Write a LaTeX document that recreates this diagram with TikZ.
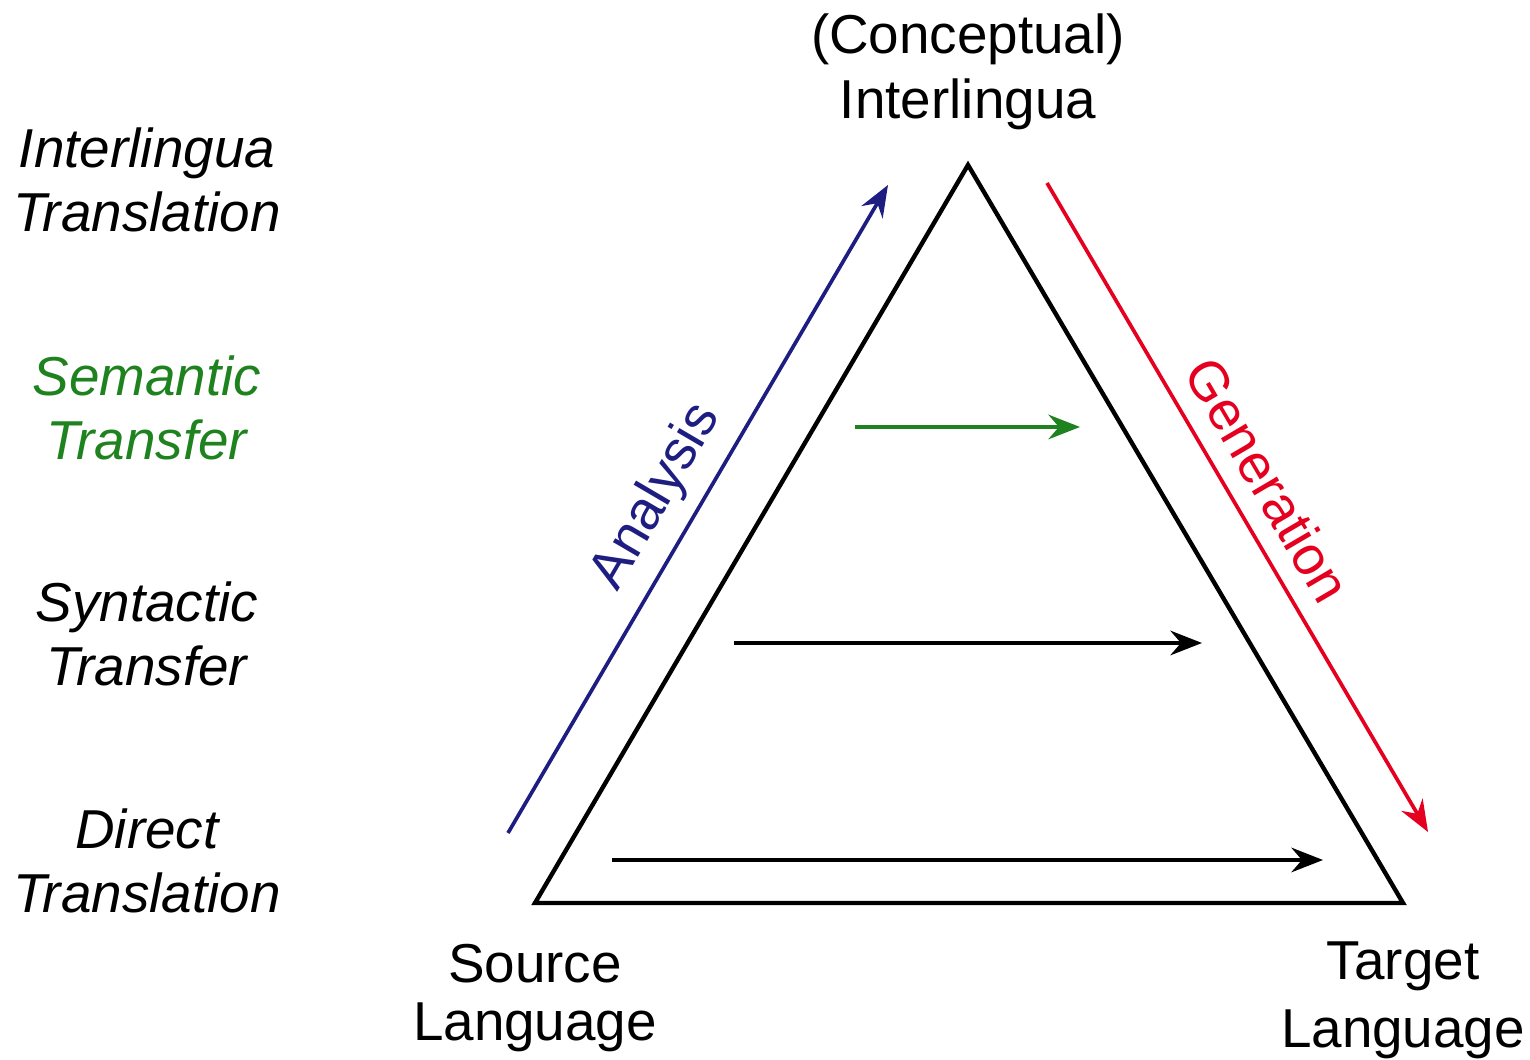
\documentclass[tikz,border=0pt]{standalone}
\usepackage{fontspec}
\setmainfont{Liberation Sans}
\usepackage{xcolor}
\usetikzlibrary{positioning,calc,arrows.meta}

\definecolor{analysisblue}{RGB}{30,30,130}
\definecolor{genred}{RGB}{228,0,30}
\definecolor{semgreen}{RGB}{30,130,30}

\tikzset{
    lbl/.style={align=center, inner sep=0pt, font=\fontsize{15.6}{18.5}\selectfont},
    level/.style={lbl, font=\fontsize{15.6}{18.2}\selectfont\itshape},
    flow/.style={line width=1.05pt, -{Stealth[length=9pt, width=7pt, inset=3pt]}}
}

\begin{document}
\begin{tikzpicture}
    \useasboundingbox (0,0) rectangle (15.3,10.6);

    % Triangle corners
    \coordinate (apex) at (9.68,8.95);
    \coordinate (src) at (5.35,1.57);
    \coordinate (tgt) at (14.03,1.57);
    \draw[line width=1.25pt, line join=miter] (src) -- (apex) -- (tgt) -- cycle;

    % Corner labels
    \node[lbl] (inter) at (9.68,9.88) {(Conceptual)\\Interlingua};
    \node[lbl, font=\fontsize{15.6}{16.6}\selectfont] (srclang) at (5.35,0.62) {Source\\Language};
    \node[lbl, font=\fontsize{15.6}{19.3}\selectfont] (tgtlang) at (14.03,0.60) {Target\\Language};

    % Levels
    \node[level] (ilt) at (1.47,8.80) {Interlingua\\Translation};
    \node[level, text=semgreen] (semt) at (1.47,6.52) {Semantic\\Transfer};
    \node[level] (synt) at (1.47,4.26) {Syntactic\\Transfer};
    \node[level] (dirt) at (1.47,1.99) {Direct\\Translation};

    % Analysis and generation
    \coordinate (anaS) at (5.08,2.27);
    \coordinate (anaE) at (8.88,8.75);
    \coordinate (genS) at (10.47,8.77);
    \coordinate (genE) at (14.28,2.28);
    \draw[flow, analysisblue] (anaS) -- (anaE);
    \draw[flow, genred] (genS) -- (genE);
    \node[lbl, text=analysisblue, rotate=59.6] (ana) at (6.57,5.63) {Analysis};
    \node[lbl, text=genred, rotate=-59.6] (gen) at (12.68,5.80) {Generation};

    % Transfer arrows
    \coordinate (semS) at (8.55,6.33);
    \coordinate (semE) at (10.80,6.33);
    \coordinate (synS) at (7.34,4.17);
    \coordinate (synE) at (12.02,4.17);
    \coordinate (dirS) at (6.12,2.00);
    \coordinate (dirE) at (13.23,2.00);
    \draw[flow, semgreen] (semS) -- (semE);
    \draw[flow] (synS) -- (synE);
    \draw[flow] (dirS) -- (dirE);
\end{tikzpicture}
\end{document}
